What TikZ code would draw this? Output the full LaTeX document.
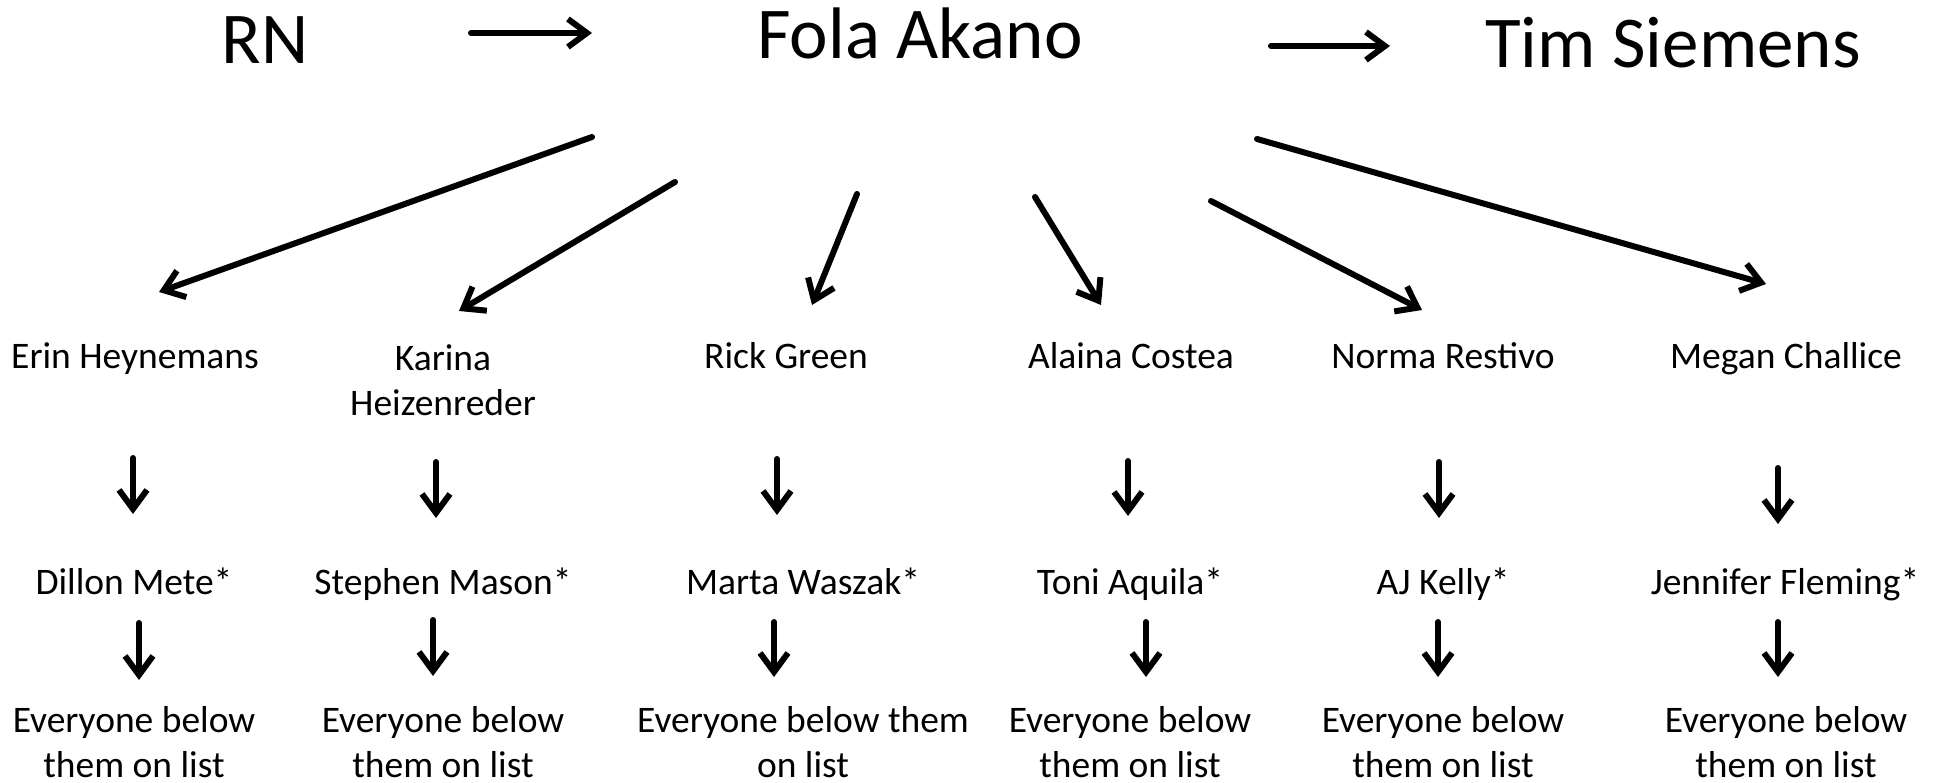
\documentclass[tikz,border=0pt]{standalone}
\usepackage{fontspec}
\setmainfont{Carlito}
\usepackage{tikz}
\usetikzlibrary{arrows.meta,calc}
\tikzset{boss/.style={font=\fontsize{73}{88}\selectfont,inner sep=0pt,anchor=base},
         staff/.style={font=\fontsize{37.5}{45}\selectfont,inner sep=0pt,anchor=base,align=center},
         line/.style={-{Straight Barb[length=19pt,width=28pt]},line width=6pt,line cap=round}
}
\begin{document}
\begin{tikzpicture}[x=1pt,y=1pt,yscale=-1,xscale=1]
\path[use as bounding box] (0,0) rectangle (1942,783);

% Text Node
\node (rn) [boss] at (265,64) {RN};
% Text Node
\node (fola) [boss] at (920,59) {Fola Akano};
% Text Node
\node (tim) [boss] at (1673,68) {Tim Siemens};

% Text Node
\node (erin) [staff] at (135,368) {Erin Heynemans};
% Text Node
\node (karina) [staff] at (443,415) {Karina\\Heizenreder};
% Text Node
\node (rick) [staff] at (786,368) {Rick Green};
% Text Node
\node (alaina) [staff] at (1131,368) {Alaina Costea};
% Text Node
\node (norma) [staff] at (1443,368) {Norma Restivo};
% Text Node
\node (megan) [staff] at (1786,368) {Megan Challice};

% Text Node
\node (dillon) [staff] at (134,594) {Dillon Mete*};
% Text Node
\node (stephen) [staff] at (443,594) {Stephen Mason*};
% Text Node
\node (marta) [staff] at (803,594) {Marta Waszak*};
% Text Node
\node (toni) [staff] at (1130,594) {Toni Aquila*};
% Text Node
\node (aj) [staff] at (1443,594) {AJ Kelly*};
% Text Node
\node (jennifer) [staff] at (1785,594) {Jennifer Fleming*};

% Text Node
\node (below1) [staff] at (134,777) {Everyone below\\them on list};
% Text Node
\node (below2) [staff] at (443,777) {Everyone below\\them on list};
% Text Node
\node (below3) [staff] at (803,777) {Everyone below them\\on list};
% Text Node
\node (below4) [staff] at (1130,777) {Everyone below\\them on list};
% Text Node
\node (below5) [staff] at (1443,777) {Everyone below\\them on list};
% Text Node
\node (below6) [staff] at (1786,777) {Everyone below\\them on list};

%Straight Lines
\draw [line] ($(rn.base)+(206,-31)$) -- ($(fola.base)+(-328,-26)$);
\draw [line] ($(fola.base)+(351,-13)$) -- ($(tim.base)+(-283,-22)$);

%Straight Lines
\draw [line] ($(fola.base)+(-328,78)$) -- ($(erin.base)+(24,-76)$);
\draw [line] ($(fola.base)+(-245,123)$) -- ($(karina.base)+(16,-104)$);
\draw [line] ($(fola.base)+(-63,135)$) -- ($(rick.base)+(26,-63)$);
\draw [line] ($(fola.base)+(115,138)$) -- ($(alaina.base)+(-30,-63)$);
\draw [line] ($(fola.base)+(291,142)$) -- ($(norma.base)+(-21,-58)$);
\draw [line] ($(fola.base)+(337,80)$) -- ($(megan.base)+(-20,-84)$);

%Straight Lines
\draw [line] ($(erin.base)+(-2,90)$) -- ($(dillon.base)+(-1,-80)$);
\draw [line] ($(karina.base)+(-7,47)$) -- ($(stephen.base)+(-7,-76)$);
\draw [line] ($(rick.base)+(-9,91)$) -- ($(marta.base)+(-26,-79)$);
\draw [line] ($(alaina.base)+(-3,93)$) -- ($(toni.base)+(-2,-78)$);
\draw [line] ($(norma.base)+(-4,94)$) -- ($(aj.base)+(-4,-76)$);
\draw [line] ($(megan.base)+(-8,100)$) -- ($(jennifer.base)+(-7,-70)$);

%Straight Lines
\draw [line] ($(dillon.base)+(5,29)$) -- ($(below1.base)+(5,-97)$);
\draw [line] ($(stephen.base)+(-10,26)$) -- ($(below2.base)+(-10,-101)$);
\draw [line] ($(marta.base)+(-29,28)$) -- ($(below3.base)+(-29,-100)$);
\draw [line] ($(toni.base)+(16,28)$) -- ($(below4.base)+(16,-100)$);
\draw [line] ($(aj.base)+(-5,28)$) -- ($(below5.base)+(-5,-100)$);
\draw [line] ($(jennifer.base)+(-7,28)$) -- ($(below6.base)+(-8,-100)$);

\end{tikzpicture}
\end{document}
